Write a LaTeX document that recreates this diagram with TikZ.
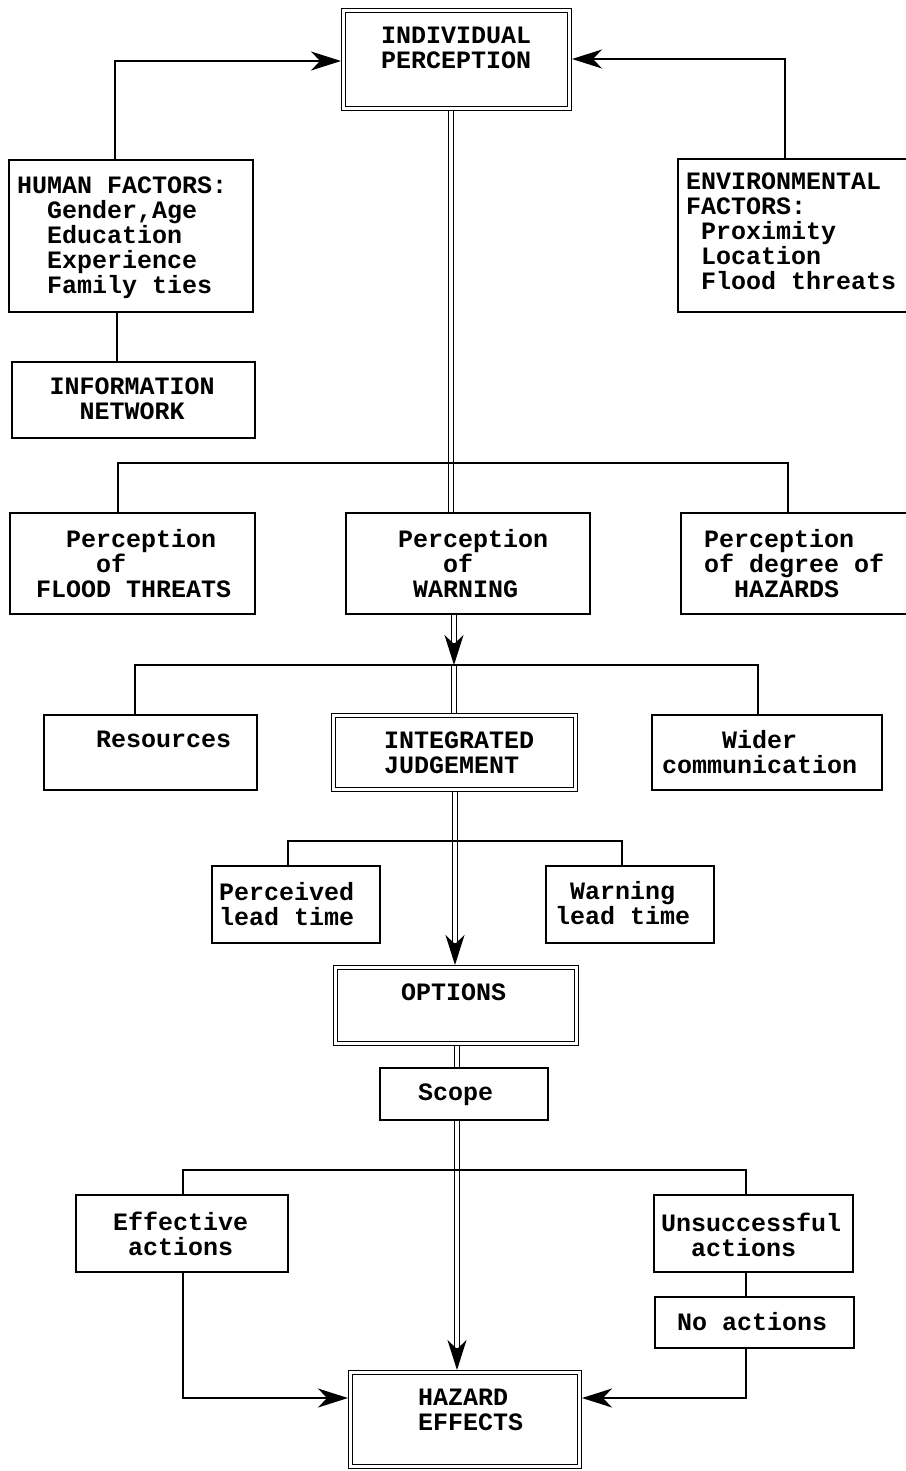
\documentclass[tikz,border=0pt]{standalone}
\usepackage{fontspec}
\setmonofont{Liberation Mono}
\usetikzlibrary{arrows.meta}
% one character cell of the 25pt monospaced label font
\newlength\cw \setlength\cw{15pt}
\newcommand\ind[1]{\hspace*{#1\cw}}
\begin{document}
\begin{tikzpicture}[x=1pt,y=-1pt,
  sbox/.style={draw, line width=1.3pt, inner sep=0pt, outer sep=0.65pt},
  dbox/.style={draw, double, double distance=3pt, line width=1.2pt, inner sep=0pt, outer sep=2.7pt},
  conn/.style={line width=1.3pt, line join=miter},
  spine/.style={double, double distance=3.8pt, line width=1.2pt},
  arr/.style={conn, -{Stealth[length=30pt,width=19pt,inset=9pt]}},
  head/.style={line width=1.2pt, -{Stealth[length=30pt,width=19pt,inset=9pt]}},
  txt/.style={anchor=north west, inner sep=0pt, align=left,
    font=\fontsize{25pt}{25pt}\selectfont\ttfamily\bfseries,
    execute at begin node={\rule{0pt}{20pt}}},
  multi/.style={yshift=-4.5pt},
]
\useasboundingbox[fill=white] (0,0) rectangle (905,1471);

% ---- boxes ----
\node[dbox, minimum width=225.6pt, minimum height=97.6pt] (ip) at (456.5,59.5) {};
\node[sbox, minimum width=244pt, minimum height=152pt] (hf) at (131,236) {};
\node[sbox, minimum width=237pt, minimum height=153pt] (env) at (796.5,235.5) {};
\node[sbox, minimum width=243pt, minimum height=76pt] (info) at (133.5,400) {};
\node[sbox, minimum width=245pt, minimum height=101pt] (pft) at (132.5,563.5) {};
\node[sbox, minimum width=244pt, minimum height=101pt] (pw) at (468,563.5) {};
\node[sbox, minimum width=234pt, minimum height=101pt] (pdh) at (798,563.5) {};
\node[sbox, minimum width=213pt, minimum height=75pt] (res) at (150.5,752.5) {};
\node[dbox, minimum width=241.6pt, minimum height=73.6pt] (ij) at (454.5,752.5) {};
\node[sbox, minimum width=230pt, minimum height=75pt] (wc) at (767,752.5) {};
\node[sbox, minimum width=168pt, minimum height=77pt] (plt) at (296,904.5) {};
\node[sbox, minimum width=168pt, minimum height=77pt] (wlt) at (630,904.5) {};
\node[dbox, minimum width=240.6pt, minimum height=75.6pt] (opt) at (456,1005.5) {};
\node[sbox, minimum width=168pt, minimum height=52pt] (scope) at (464,1094) {};
\node[sbox, minimum width=212pt, minimum height=77pt] (eff) at (182,1233.5) {};
\node[sbox, minimum width=199pt, minimum height=77pt] (uns) at (753.5,1233.5) {};
\node[sbox, minimum width=199pt, minimum height=51pt] (noa) at (754.5,1322.5) {};
\node[dbox, minimum width=228.6pt, minimum height=93.6pt] (he) at (465,1419.5) {};

% ---- labels ----
\node[txt, multi] (ip-t) at (381,22) {INDIVIDUAL\\PERCEPTION};
\node[txt, multi] (hf-t) at (17,172) {HUMAN FACTORS:\\\ind{2}Gender,Age\\\ind{2}Education\\\ind{2}Experience\\\ind{2}Family ties};
\node[txt, multi] (env-t) at (686,168) {ENVIRONMENTAL\\FACTORS:\\\ind{1}Proximity\\\ind{1}Location\\\ind{1}Flood threats};
\node[txt, multi] (info-t) at (49.5,373) {INFORMATION\\\ind{2}NETWORK};
\node[txt, multi] (pft-t) at (36,525) {\ind{2}Perception\\\ind{4}of\\FLOOD THREATS};
\node[txt, multi] (pw-t) at (398,525) {Perception\\\ind{3}of\\\ind{1}WARNING};
\node[txt, multi] (pdh-t) at (704,525) {Perception\\of degree of\\\ind{2}HAZARDS};
\node[txt] (res-t) at (96,727) {Resources};
\node[txt, multi] (ij-t) at (384,727) {INTEGRATED\\JUDGEMENT};
\node[txt, multi] (wc-t) at (662,726) {\ind{4}Wider\\communication};
\node[txt, multi] (plt-t) at (219,878) {Perceived\\lead time};
\node[txt, multi] (wlt-t) at (555,877) {\ind{1}Warning\\lead time};
\node[txt] (opt-t) at (401,980) {OPTIONS};
\node[txt] (scope-t) at (418,1080) {Scope};
\node[txt, multi] (eff-t) at (113,1207) {Effective\\\ind{1}actions};
\node[txt, multi] (uns-t) at (661,1208) {Unsuccessful\\\ind{2}actions};
\node[txt] (noa-t) at (677,1310) {No actions};
\node[txt, multi] (he-t) at (418,1384) {HAZARD\\EFFECTS};

% ---- routing points ----
\coordinate (lu) at (115,61);
\coordinate (ru) at (785,59);
\coordinate (hfx) at (117,0);
\coordinate (s1) at (451,0);
\coordinate (h1a) at (118,463);
\coordinate (h1b) at (788,463);
\coordinate (s2) at (454,643);
\coordinate (h2a) at (135,665);
\coordinate (h2b) at (758,665);
\coordinate (s3) at (455,943);
\coordinate (h3a) at (288,841);
\coordinate (h3b) at (622,841);
\coordinate (s4) at (457,1348);
\coordinate (h4a) at (183,1170);
\coordinate (h4b) at (746,1170);
\coordinate (bl) at (183,1398);
\coordinate (br) at (746,1398);

% ---- factors feeding the perception box ----
\draw[arr] (hf.north -| lu) -- (lu) -- (ip.west |- lu);
\draw[arr] (env.north -| ru) -- (ru) -- (ip.east |- ru);
\draw[conn] (hf.south -| hfx) -- (info.north -| hfx);

% ---- main double spine ----
\draw[spine] (ip.south -| s1) -- (pw.north -| s1);
\draw[spine] (pw.south -| s2) -- (s2);
\draw[head] (s2) -- (s2 |- h2a);
\draw[spine] (s2 |- h2a) -- (ij.north -| s2);
\draw[spine] (ij.south -| s3) -- (s3);
\draw[head] (s3) -- (opt.north -| s3);
\draw[spine] (opt.south -| s4) -- (scope.north -| s4);
\draw[spine] (scope.south -| s4) -- (s4);
\draw[head] (s4) -- (he.north -| s4);

% ---- side branches ----
\draw[conn] (pft.north -| h1a) -- (h1a) -- (h1b) -- (pdh.north -| h1b);
\draw[conn] (res.north -| h2a) -- (h2a) -- (h2b) -- (wc.north -| h2b);
\draw[conn] (plt.north -| h3a) -- (h3a) -- (h3b) -- (wlt.north -| h3b);
\draw[conn] (eff.north -| h4a) -- (h4a) -- (h4b) -- (uns.north -| h4b);
\draw[conn] (uns.south -| h4b) -- (noa.north -| h4b);

% ---- outcomes into hazard effects ----
\draw[arr] (eff.south -| bl) -- (bl) -- (he.west |- bl);
\draw[arr] (noa.south -| br) -- (br) -- (he.east |- br);
\end{tikzpicture}
\end{document}
